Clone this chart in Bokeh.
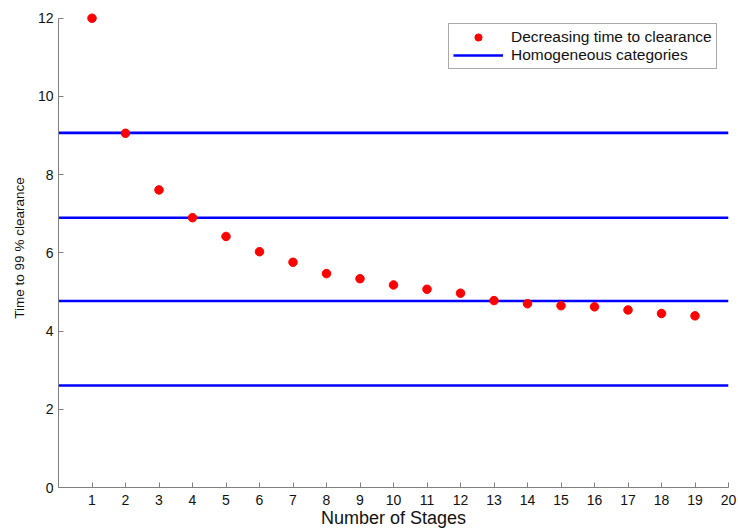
from bokeh.plotting import figure
from bokeh.models import Range1d, Legend, LegendItem, FixedTicker
from bokeh.embed import file_html
from bokeh.resources import INLINE

# Time to 99 % clearance for each number of stages
stages = list(range(1, 20))
clearance_time = [12.0, 9.06, 7.61, 6.90, 6.42, 6.03, 5.76, 5.47, 5.34, 5.18,
                  5.07, 4.97, 4.78, 4.70, 4.65, 4.62, 4.54, 4.45, 4.39]

# Boundaries of the homogeneous categories
category_levels = [9.07, 6.90, 4.77, 2.61]

x_ticks = list(range(1, 21))
y_ticks = [0, 2, 4, 6, 8, 10, 12]

FONT = "Liberation Sans"

p = figure(width=738, height=530, output_backend="svg", toolbar_location=None,
           x_range=Range1d(0, 20), y_range=Range1d(0, 12.25),
           min_border_left=58, min_border_right=10, min_border_top=8,
           min_border_bottom=42)
p.outline_line_color = None
p.xgrid.visible = False
p.ygrid.visible = False
p.background_fill_color = "white"
p.border_fill_color = "white"

line_renderers = []
for lvl in category_levels:
    r = p.line(x=[0, 20], y=[lvl, lvl], line_color="#0000FF", line_width=2.6)
    line_renderers.append(r)

dots = p.scatter(x=stages, y=clearance_time, size=8.5, fill_color="#FF0000",
                 line_color="#FF0000")

for ax in (p.xaxis[0], p.yaxis[0]):
    ax.axis_line_color = "#808080"
    ax.major_tick_line_color = "#808080"
    ax.major_tick_in = 5
    ax.major_tick_out = 0
    ax.minor_tick_line_color = None
    ax.major_label_text_font = FONT
    ax.major_label_text_font_size = "14px"
    ax.major_label_text_color = "#111111"
    ax.axis_label_text_font = FONT
    ax.axis_label_text_font_style = "normal"
    ax.axis_label_text_color = "#111111"

p.xaxis[0].ticker = FixedTicker(ticks=x_ticks)
p.yaxis[0].ticker = FixedTicker(ticks=y_ticks)
p.yaxis[0].bounds = (0, 12)
p.xaxis[0].major_label_standoff = 7
p.yaxis[0].major_label_standoff = 5
p.xaxis[0].axis_label = "Number of Stages"
p.xaxis[0].axis_label_text_font_size = "18px"
p.xaxis[0].axis_label_standoff = 0
p.yaxis[0].axis_label = "Time to 99 % clearance"
p.yaxis[0].axis_label_text_font_size = "13.5px"
p.yaxis[0].axis_label_standoff = 8

legend = Legend(items=[
    LegendItem(label="Decreasing time to clearance", renderers=[dots]),
    LegendItem(label="Homogeneous categories", renderers=[line_renderers[0]]),
], location=(390, 418))
legend.label_text_font = FONT
legend.label_text_font_size = "15.5px"
legend.label_text_color = "#111111"
legend.label_height = 18
legend.glyph_height = 18
legend.glyph_width = 50
legend.label_standoff = 8
legend.spacing = 0
legend.padding = 4
legend.margin = 0
legend.border_line_color = "#555555"
legend.border_line_width = 1
legend.background_fill_color = "white"
legend.background_fill_alpha = 1.0
p.add_layout(legend)

open("out.html", "w").write(file_html(p, INLINE))
